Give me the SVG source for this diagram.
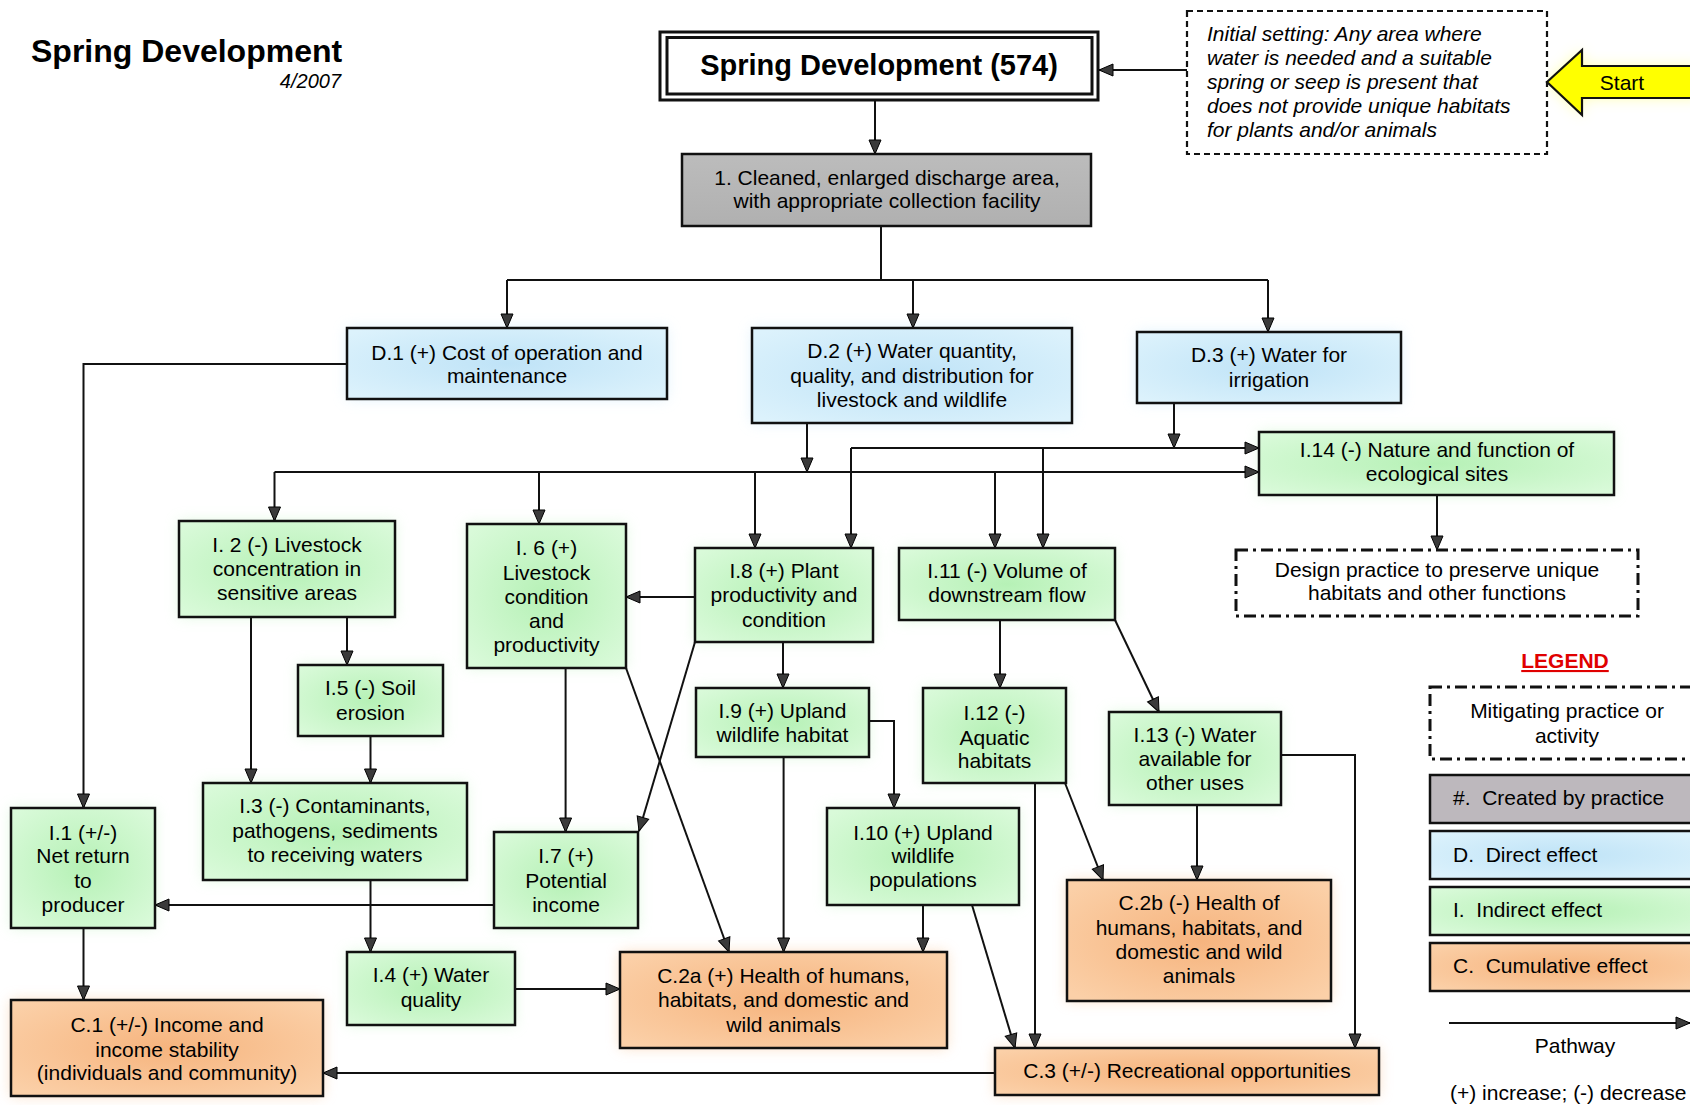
<svg xmlns="http://www.w3.org/2000/svg" width="1690" height="1105" viewBox="0 0 1690 1105">
  <defs>
    <radialGradient id="gGreen" cx="50%" cy="50%" r="65%">
      <stop offset="0%" stop-color="#b6f1b6"/>
      <stop offset="100%" stop-color="#d9fad9"/>
    </radialGradient>
    <radialGradient id="gBlue" cx="50%" cy="50%" r="65%">
      <stop offset="0%" stop-color="#bfe3f7"/>
      <stop offset="100%" stop-color="#dcf2fc"/>
    </radialGradient>
    <radialGradient id="gOrange" cx="50%" cy="50%" r="65%">
      <stop offset="0%" stop-color="#f6b47e"/>
      <stop offset="100%" stop-color="#fbd0a8"/>
    </radialGradient>
    <linearGradient id="gGray" x1="0" y1="0" x2="0" y2="1">
      <stop offset="0%" stop-color="#bcbcbc"/>
      <stop offset="100%" stop-color="#b0b0b0"/>
    </linearGradient>
    <filter id="halo" x="-20%" y="-40%" width="140%" height="180%">
      <feGaussianBlur stdDeviation="7"/>
    </filter>
    <marker id="arr" markerUnits="userSpaceOnUse" markerWidth="16" markerHeight="14" viewBox="0 0 16 14" refX="15" refY="7" orient="auto">
      <path d="M1,1 L15,7 L1,13 Z" fill="#3a3a3a" stroke="#000" stroke-width="1"/>
    </marker>
  </defs>
  <style>
    text { font-family: "Liberation Sans", Arial, sans-serif; font-size: 21px; fill: #000; }
    .c { text-anchor: middle; }
    .box { stroke: #111; stroke-width: 2.5; }
    .green { fill: url(#gGreen); }
    .blue { fill: url(#gBlue); }
    .orange { fill: url(#gOrange); }
    .gray { fill: url(#gGray); }
    .hg { fill: #c6f5c6; opacity: 0.55; filter: url(#halo); }
    .hb { fill: #c8e9fa; opacity: 0.55; filter: url(#halo); }
    .ho { fill: #f8c597; opacity: 0.55; filter: url(#halo); }
    .link { fill: none; stroke: #111; stroke-width: 2; }
    .arrow { marker-end: url(#arr); }
    .dashdot { fill: #fff; stroke: #111; stroke-width: 3; stroke-dasharray: 12 5 3 5; }
  </style>

  <rect width="1690" height="1105" fill="#fff"/>

  <!-- heading -->
  <g id="heading">
    <text x="31" y="62" style="font-size:32px;font-weight:bold">Spring Development</text>
    <text x="341" y="88" style="font-size:20px;font-style:italic;text-anchor:end">4/2007</text>
  </g>

  <!-- soft halos behind the coloured boxes -->
  <g id="halos">
    <rect class="hb" x="347" y="328" width="320" height="71"/>
    <rect class="hb" x="752" y="328" width="320" height="95"/>
    <rect class="hb" x="1137" y="332" width="264" height="71"/>
    <rect class="hg" x="1259" y="432" width="355" height="63"/>
    <rect class="hg" x="179" y="521" width="216" height="96"/>
    <rect class="hg" x="467" y="524" width="159" height="144"/>
    <rect class="hg" x="695" y="548" width="178" height="94"/>
    <rect class="hg" x="899" y="548" width="216" height="72"/>
    <rect class="hg" x="298" y="665" width="145" height="71"/>
    <rect class="hg" x="696" y="688" width="173" height="69"/>
    <rect class="hg" x="923" y="688" width="143" height="95"/>
    <rect class="hg" x="1109" y="712" width="172" height="93"/>
    <rect class="hg" x="203" y="783" width="264" height="97"/>
    <rect class="hg" x="11" y="808" width="144" height="120"/>
    <rect class="hg" x="494" y="832" width="144" height="96"/>
    <rect class="hg" x="827" y="808" width="192" height="97"/>
    <rect class="ho" x="1067" y="880" width="264" height="121"/>
    <rect class="hg" x="347" y="952" width="168" height="73"/>
    <rect class="ho" x="620" y="952" width="327" height="96"/>
    <rect class="ho" x="11" y="1000" width="312" height="96"/>
    <rect class="ho" x="995" y="1048" width="384" height="47"/>
    <path d="M1547,82 L1582,50 L1582,66 L1700,66 L1700,98 L1582,98 L1582,115 Z" fill="#ffff60" opacity="0.5" filter="url(#halo)"/>
  </g>

  <!-- connectors -->
  <g id="connectors">
    <path class="link arrow" d="M875,100 V154"/>
    <path class="link arrow" d="M1187,70 H1099"/>
    <path class="link" d="M881,226 V280 M507,280 H1268"/>
    <path class="link arrow" d="M507,280 V328"/>
    <path class="link arrow" d="M913,280 V328"/>
    <path class="link arrow" d="M1268,280 V332"/>
    <path class="link arrow" d="M347,364 H83.5 V808"/>
    <path class="link arrow" d="M807,423 V472"/>
    <path class="link arrow" d="M1174,403 V448"/>
    <path class="link arrow" d="M274.5,472 H1259"/>
    <path class="link arrow" d="M274.5,472 V521"/>
    <path class="link arrow" d="M539,472 V524"/>
    <path class="link arrow" d="M755,472 V548"/>
    <path class="link arrow" d="M995,472 V548"/>
    <path class="link arrow" d="M851,448 H1259"/>
    <path class="link arrow" d="M851,448 V548"/>
    <path class="link arrow" d="M1043,448 V548"/>
    <path class="link arrow" d="M1437,495 V550"/>
    <path class="link arrow" d="M695,597 H626"/>
    <path class="link arrow" d="M347,617 V665"/>
    <path class="link arrow" d="M251,617 V783"/>
    <path class="link arrow" d="M370.5,736 V783"/>
    <path class="link arrow" d="M565.6,668 V832"/>
    <path class="link arrow" d="M626,668 L729,952"/>
    <path class="link arrow" d="M695,642 L639,831"/>
    <path class="link arrow" d="M783,642 V688"/>
    <path class="link arrow" d="M783.6,757 V952"/>
    <path class="link arrow" d="M869,721 H894 V808"/>
    <path class="link arrow" d="M923,905 V952"/>
    <path class="link arrow" d="M972,905 L1015,1048"/>
    <path class="link arrow" d="M1000,620 V688"/>
    <path class="link arrow" d="M1115,620 L1159,712"/>
    <path class="link arrow" d="M1035,783 V1048"/>
    <path class="link arrow" d="M1065,783 L1103,880"/>
    <path class="link arrow" d="M1197,805 V880"/>
    <path class="link arrow" d="M1281,755 H1355 V1048"/>
    <path class="link arrow" d="M370.5,880 V952"/>
    <path class="link arrow" d="M494,905 H155"/>
    <path class="link arrow" d="M83.5,928 V1000"/>
    <path class="link arrow" d="M515,989 H620"/>
    <path class="link arrow" d="M995,1073 H323"/>
  </g>

  <!-- practice -->
  <g id="practice">
    <rect x="660" y="32" width="438" height="68" fill="#fff" stroke="#111" stroke-width="3"/>
    <rect x="667" y="37.5" width="425" height="56.5" fill="none" stroke="#111" stroke-width="3"/>
    <text class="c" x="879" y="75" style="font-size:29px;font-weight:bold">Spring Development (574)</text>
  </g>

  <g id="initial-setting">
    <rect x="1187" y="11" width="360" height="143" fill="#fff" stroke="#111" stroke-width="2.2" stroke-dasharray="6 4"/>
    <text x="1207" y="41" style="font-style:italic">Initial setting: Any area where</text>
    <text x="1207" y="65" style="font-style:italic">water is needed and a suitable</text>
    <text x="1207" y="89" style="font-style:italic">spring or seep is present that</text>
    <text x="1207" y="113" style="font-style:italic">does not provide unique habitats</text>
    <text x="1207" y="137" style="font-style:italic">for plants and/or animals</text>
  </g>

  <g id="start">
    <path d="M1547,82 L1582,50 L1582,66 L1700,66 L1700,98 L1582,98 L1582,115 Z" fill="#ffff00" stroke="#111" stroke-width="2.2"/>
    <text class="c" x="1622" y="90">Start</text>
  </g>

  <g id="n1">
    <rect class="box gray" x="682" y="154" width="409" height="72"/>
    <text class="c" x="887" y="185">1. Cleaned, enlarged discharge area,</text>
    <text class="c" x="887" y="208">with appropriate collection facility</text>
  </g>

  <g id="d1">
    <rect class="box blue" x="347" y="328" width="320" height="71"/>
    <text class="c" x="507" y="360">D.1 (+) Cost of operation and</text>
    <text class="c" x="507" y="383">maintenance</text>
  </g>
  <g id="d2">
    <rect class="box blue" x="752" y="328" width="320" height="95"/>
    <text class="c" x="912" y="358">D.2 (+) Water quantity,</text>
    <text class="c" x="912" y="383">quality, and distribution for</text>
    <text class="c" x="912" y="407">livestock and wildlife</text>
  </g>
  <g id="d3">
    <rect class="box blue" x="1137" y="332" width="264" height="71"/>
    <text class="c" x="1269" y="362">D.3 (+) Water for</text>
    <text class="c" x="1269" y="387">irrigation</text>
  </g>

  <g id="i14">
    <rect class="box green" x="1259" y="432" width="355" height="63"/>
    <text class="c" x="1437" y="457">I.14 (-) Nature and function of</text>
    <text class="c" x="1437" y="481">ecological sites</text>
  </g>
  <g id="design-practice">
    <rect class="dashdot" x="1236" y="550" width="402" height="66"/>
    <text class="c" x="1437" y="577">Design practice to preserve unique</text>
    <text class="c" x="1437" y="600">habitats and other functions</text>
  </g>

  <g id="i2">
    <rect class="box green" x="179" y="521" width="216" height="96"/>
    <text class="c" x="287" y="552">I. 2 (-) Livestock</text>
    <text class="c" x="287" y="576">concentration in</text>
    <text class="c" x="287" y="600">sensitive areas</text>
  </g>
  <g id="i6">
    <rect class="box green" x="467" y="524" width="159" height="144"/>
    <text class="c" x="546.5" y="555">I. 6 (+)</text>
    <text class="c" x="546.5" y="580">Livestock</text>
    <text class="c" x="546.5" y="604">condition</text>
    <text class="c" x="546.5" y="628">and</text>
    <text class="c" x="546.5" y="652">productivity</text>
  </g>
  <g id="i8">
    <rect class="box green" x="695" y="548" width="178" height="94"/>
    <text class="c" x="784" y="578">I.8 (+) Plant</text>
    <text class="c" x="784" y="602">productivity and</text>
    <text class="c" x="784" y="627">condition</text>
  </g>
  <g id="i11">
    <rect class="box green" x="899" y="548" width="216" height="72"/>
    <text class="c" x="1007" y="578">I.11 (-) Volume of</text>
    <text class="c" x="1007" y="602">downstream flow</text>
  </g>
  <g id="i5">
    <rect class="box green" x="298" y="665" width="145" height="71"/>
    <text class="c" x="370.5" y="695">I.5 (-) Soil</text>
    <text class="c" x="370.5" y="720">erosion</text>
  </g>
  <g id="i9">
    <rect class="box green" x="696" y="688" width="173" height="69"/>
    <text class="c" x="782.5" y="718">I.9 (+) Upland</text>
    <text class="c" x="782.5" y="742">wildlife habitat</text>
  </g>
  <g id="i12">
    <rect class="box green" x="923" y="688" width="143" height="95"/>
    <text class="c" x="994.5" y="720">I.12 (-)</text>
    <text class="c" x="994.5" y="745">Aquatic</text>
    <text class="c" x="994.5" y="768">habitats</text>
  </g>
  <g id="i13">
    <rect class="box green" x="1109" y="712" width="172" height="93"/>
    <text class="c" x="1195" y="742">I.13 (-) Water</text>
    <text class="c" x="1195" y="766">available for</text>
    <text class="c" x="1195" y="790">other uses</text>
  </g>
  <g id="i3">
    <rect class="box green" x="203" y="783" width="264" height="97"/>
    <text class="c" x="335" y="813">I.3 (-) Contaminants,</text>
    <text class="c" x="335" y="838">pathogens, sediments</text>
    <text class="c" x="335" y="862">to receiving waters</text>
  </g>
  <g id="i1">
    <rect class="box green" x="11" y="808" width="144" height="120"/>
    <text class="c" x="83" y="840">I.1 (+/-)</text>
    <text class="c" x="83" y="863">Net return</text>
    <text class="c" x="83" y="888">to</text>
    <text class="c" x="83" y="912">producer</text>
  </g>
  <g id="i7">
    <rect class="box green" x="494" y="832" width="144" height="96"/>
    <text class="c" x="566" y="863">I.7 (+)</text>
    <text class="c" x="566" y="888">Potential</text>
    <text class="c" x="566" y="912">income</text>
  </g>
  <g id="i10">
    <rect class="box green" x="827" y="808" width="192" height="97"/>
    <text class="c" x="923" y="840">I.10 (+) Upland</text>
    <text class="c" x="923" y="863">wildlife</text>
    <text class="c" x="923" y="887">populations</text>
  </g>
  <g id="c2b">
    <rect class="box orange" x="1067" y="880" width="264" height="121"/>
    <text class="c" x="1199" y="910">C.2b (-) Health of</text>
    <text class="c" x="1199" y="935">humans, habitats, and</text>
    <text class="c" x="1199" y="959">domestic and wild</text>
    <text class="c" x="1199" y="983">animals</text>
  </g>
  <g id="i4">
    <rect class="box green" x="347" y="952" width="168" height="73"/>
    <text class="c" x="431" y="982">I.4 (+) Water</text>
    <text class="c" x="431" y="1007">quality</text>
  </g>
  <g id="c2a">
    <rect class="box orange" x="620" y="952" width="327" height="96"/>
    <text class="c" x="783.5" y="983">C.2a (+) Health of humans,</text>
    <text class="c" x="783.5" y="1007">habitats, and domestic and</text>
    <text class="c" x="783.5" y="1032">wild animals</text>
  </g>
  <g id="c1">
    <rect class="box orange" x="11" y="1000" width="312" height="96"/>
    <text class="c" x="167" y="1032">C.1 (+/-) Income and</text>
    <text class="c" x="167" y="1057">income stability</text>
    <text class="c" x="167" y="1080">(individuals and community)</text>
  </g>
  <g id="c3">
    <rect class="box orange" x="995" y="1048" width="384" height="47"/>
    <text class="c" x="1187" y="1078">C.3 (+/-) Recreational opportunities</text>
  </g>

  <!-- legend -->
  <g id="legend">
    <text class="c" x="1565" y="668" style="font-weight:bold;fill:#e00000;text-decoration:underline">LEGEND</text>
    <rect class="dashdot" x="1430" y="687" width="275" height="72"/>
    <text class="c" x="1567" y="718">Mitigating practice or</text>
    <text class="c" x="1567" y="743">activity</text>
    <rect class="box gray" x="1430" y="775" width="275" height="48" style="fill:#bdb8bd"/>
    <text x="1453" y="805" xml:space="preserve">#.  Created by practice</text>
    <rect class="box blue" x="1430" y="831" width="275" height="48"/>
    <text x="1453" y="862" xml:space="preserve">D.  Direct effect</text>
    <rect class="box green" x="1430" y="887" width="275" height="48"/>
    <text x="1453" y="917" xml:space="preserve">I.  Indirect effect</text>
    <rect class="box orange" x="1430" y="943" width="275" height="48"/>
    <text x="1453" y="973" xml:space="preserve">C.  Cumulative effect</text>
    <path class="link arrow" d="M1449,1023 H1690"/>
    <text class="c" x="1575" y="1053">Pathway</text>
    <text x="1450" y="1100">(+) increase; (-) decrease</text>
  </g>
</svg>
